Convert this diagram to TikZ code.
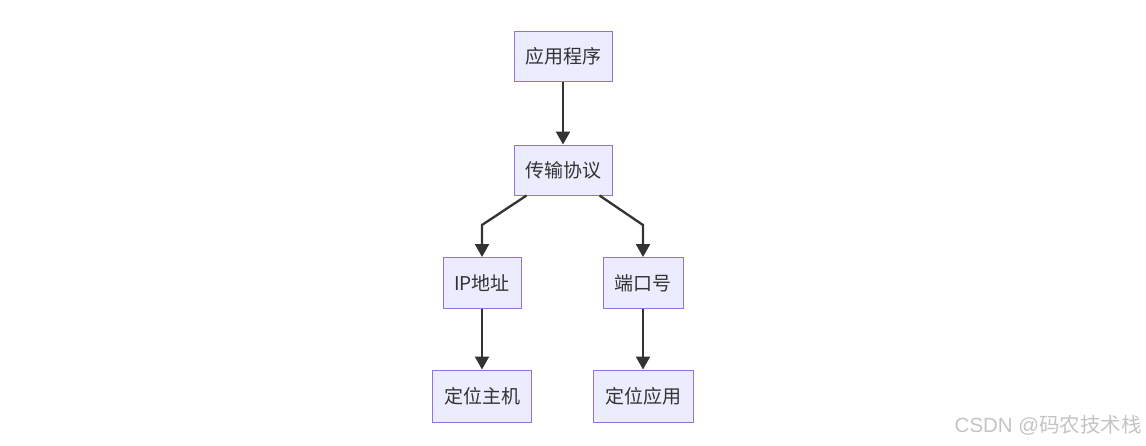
\documentclass[tikz,border=0pt]{standalone}
\usepackage{fontspec}
\setmainfont{Noto Sans CJK SC}
\newfontfamily\wmlatin{Liberation Sans}
\usetikzlibrary{arrows.meta}
\definecolor{nodefill}{HTML}{ECECFF}
\definecolor{nodeborder}{HTML}{9370DB}
\definecolor{edgecol}{HTML}{333333}
\definecolor{wm}{HTML}{C4C4C4}
\tikzset{
  box/.style={draw=nodeborder, fill=nodefill, line width=1pt, text=edgecol,
    font=\fontsize{19}{23}\selectfont, minimum height=50pt, inner sep=0pt},
  arr/.style={draw=edgecol, line width=2.3pt, -{Triangle[length=13pt,width=14pt]}}
}
\begin{document}
\begin{tikzpicture}[x=1pt,y=-1pt]
\useasboundingbox (0,0) rectangle (1146,445);
\node[box, minimum width=98pt] (app) at (563,56) {应用程序};
\node[box, minimum width=98pt] (tp) at (563,170) {传输协议};
\node[box, minimum width=78pt, minimum height=51pt] (ip) at (482,283) {IP地址};
\node[box, minimum width=80pt, minimum height=51pt] (port) at (643,283) {端口号};
\node[box, minimum width=99pt, minimum height=52pt] (host) at (482,396) {定位主机};
\node[box, minimum width=100pt, minimum height=52pt] (loc) at (643,396) {定位应用};
\draw[arr] (app) -- (tp);
\draw[arr] ([xshift=13pt]tp.south west) -- (482,225) -- (ip.north);
\draw[arr] ([xshift=-13pt]tp.south east) -- (643,225) -- (port.north);
\draw[arr] (ip) -- (host);
\draw[arr] (port) -- (loc);
\node[anchor=east, text=wm, font=\fontsize{20.5}{24}\selectfont, inner sep=0pt] (wmk) at (1142,425) {{\wmlatin CSDN @}码农技术栈};
\end{tikzpicture}
\end{document}
